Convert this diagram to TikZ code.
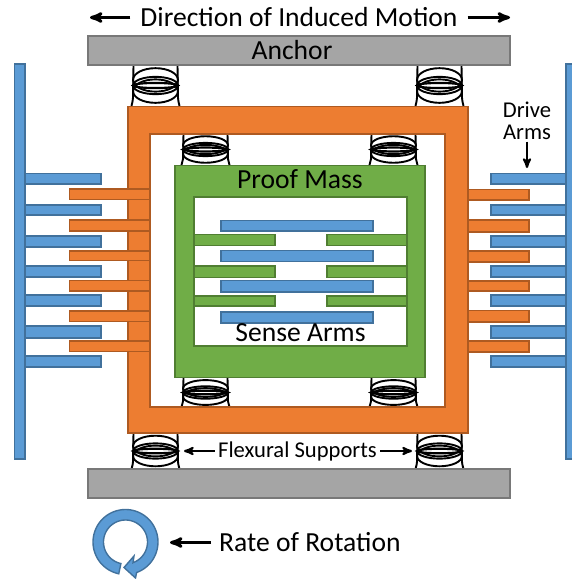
\documentclass[tikz,border=0pt]{standalone}
\usepackage{fontspec}
\setmainfont{Carlito}
\usetikzlibrary{arrows,positioning,calc}
\definecolor{armblue}{HTML}{5B9BD5}
\definecolor{armblueedge}{HTML}{41719C}
\definecolor{framecolor}{HTML}{ED7D31}
\definecolor{frameedge}{HTML}{AE5A21}
\definecolor{masscolor}{HTML}{70AD47}
\definecolor{massedge}{HTML}{507E32}
\definecolor{barcolor}{HTML}{A5A5A5}
\definecolor{baredge}{HTML}{787878}
\tikzset{
    bluepart/.style={
        draw=armblueedge,
        fill=armblue,
        line width=1.4pt,
    },
    framepart/.style={
        draw=frameedge,
        fill=framecolor,
        line width=1.4pt,
    },
    masspart/.style={
        draw=massedge,
        fill=masscolor,
        line width=1.4pt,
    },
    anchorbar/.style={
        draw=baredge,
        fill=barcolor,
        line width=1.4pt,
        minimum width=422pt,
        minimum height=29pt,
        inner sep=0pt,
    },
    bigtext/.style={
        font=\fontsize{27.6}{29}\selectfont,
    },
    smalltext/.style={
        font=\fontsize{22.6}{24}\selectfont,
        inner sep=3pt,
    },
    pointer/.style={
        ->,
        line width=3pt,
    },
    smallpointer/.style={
        ->,
        line width=2.2pt,
    },
    spring/.pic={
        \draw [line width=1.9pt] (0,-5.5) ellipse [x radius=22.5,y radius=11.5];
        \draw [line width=1.9pt] (0,0) ellipse [x radius=22.5,y radius=8.5];
        \draw [line width=2.2pt] (0,0) ellipse [x radius=22.5,y radius=2.5];
        \draw [line width=1.9pt] (0,5.5) ellipse [x radius=22.5,y radius=11.5];
        \draw [line width=1.9pt] (-22,-20) -- (-22.5,12) .. controls (-22.8,15) .. (-24,20);
        \draw [line width=1.9pt] (22,-20) -- (22.5,12) .. controls (22.8,15) .. (24,20);
    },
}
\begin{document}
\begin{tikzpicture}[x=1pt,y=-1pt,>=stealth']
	\useasboundingbox (0,0) rectangle (572,579);
	% springs
	\pic [yscale=1.02] at (155.5,85.5) {spring};
	\pic [yscale=1.02] at (439.5,85.5) {spring};
	\pic [yscale=0.78] at (205.5,149.5) {spring};
	\pic [yscale=0.78] at (393.5,149.5) {spring};
	\pic [yscale=0.73] at (205.5,392.5) {spring};
	\pic [yscale=0.73] at (393.5,392.5) {spring};
	\pic [yscale=0.9] at (155.5,451) {spring};
	\pic [yscale=0.9] at (439.5,451) {spring};
	% anchors
	\node [anchorbar] (anchorT) at (299,50.5) {};
	\node [anchorbar] (anchorB) at (299,483.5) {};
	\node [bigtext] (anchorLabel) at (292,50.5) {Anchor};
	% drive combs
	\draw [bluepart] (14.5,64) rectangle (25,459);
	\draw [bluepart] (25,173.5) rectangle (101,184) (25,205) rectangle (101,215)
		(25,236) rectangle (101,247) (25,266) rectangle (101,277)
		(25,295) rectangle (101,306) (25,326) rectangle (101,338)
		(25,356) rectangle (101,367);
	\draw [bluepart] (566,64) rectangle (577,459);
	\draw [bluepart] (491,173.5) rectangle (566,184) (491,205) rectangle (566,215)
		(491,236) rectangle (566,247) (491,266) rectangle (566,277)
		(491,295) rectangle (566,306) (491,326) rectangle (566,338)
		(491,356) rectangle (566,367);
	% outer frame
	\draw [framepart,even odd rule] (128,106.5) rectangle (468,433) (150,134) rectangle (445,407);
	\draw [framepart] (69.5,189) rectangle (150,199.5) (69.5,220) rectangle (150,231)
		(69.5,251) rectangle (150,260.5) (69.5,280.5) rectangle (150,291)
		(69.5,311) rectangle (150,321.5) (69.5,341) rectangle (150,351.5);
	\draw [framepart] (468,189.5) rectangle (529,200) (468,220) rectangle (529,232)
		(468,251) rectangle (529,262) (468,281) rectangle (529,291)
		(468,310.5) rectangle (529,322) (468,341) rectangle (529,352);
	% proof mass
	\draw [masspart,even odd rule] (175,165.5) rectangle (425,377.5) (194,197) rectangle (407,346);
	\draw [masspart] (194,234.5) rectangle (275,245.5) (194,266) rectangle (275,277.5)
		(194,296) rectangle (275,306);
	\draw [masspart] (327,234.5) rectangle (407,245.5) (327,266) rectangle (407,277.5)
		(327,296) rectangle (407,306);
	\draw [bluepart] (221,220.5) rectangle (373,231) (221,250.5) rectangle (373,261.5)
		(221,280.5) rectangle (373,292) (221,312) rectangle (373,323);
	% labels
	\node [bigtext] (massLabel) at (300,179.5) {Proof Mass};
	\node [bigtext] (senseLabel) at (300.5,333) {Sense Arms};
	\node [bigtext,inner sep=10pt] (motion) at (299,17.5) {Direction of Induced Motion};
	\coordinate (motionL) at (90,17.5);
	\coordinate (motionR) at (510,17.5);
	\draw [pointer] (motion) -- (motionL);
	\draw [pointer] (motion) -- (motionR);
	\node [smalltext,align=center,inner sep=0pt] (drive) at (527,120.5) {Drive\\[-2pt]Arms};
	\coordinate (driveTip) at (527,168);
	\draw [smallpointer] ([yshift=-2pt]drive.south) -- (driveTip);
	\node [smalltext] (flexural) at (297.5,451) {Flexural Supports};
	\coordinate (flexuralL) at (184,451);
	\coordinate (flexuralR) at (412,451);
	\draw [smallpointer] (flexural) -- (flexuralL);
	\draw [smallpointer] (flexural) -- (flexuralR);
	% rotation ring
	\fill [draw=armblueedge,fill=armblue,line width=1.4pt]
		plot [domain=-102:-430,samples=70] ({125.5+32.5*cos(\x)},{542-32.5*sin(\x)})
		-- (135.5,578) -- (124,567.5) -- (134,556)
		-- plot [domain=-430:-102,samples=70] ({125.5+22*cos(\x)},{542-22*sin(\x)}) -- cycle;
	\node [bigtext,anchor=west,inner sep=8pt] (rate) at (211,542.5) {Rate of Rotation};
	\coordinate (rateTip) at (170,542.5);
	\draw [pointer] (rate) -- (rateTip);
\end{tikzpicture}
\end{document}
